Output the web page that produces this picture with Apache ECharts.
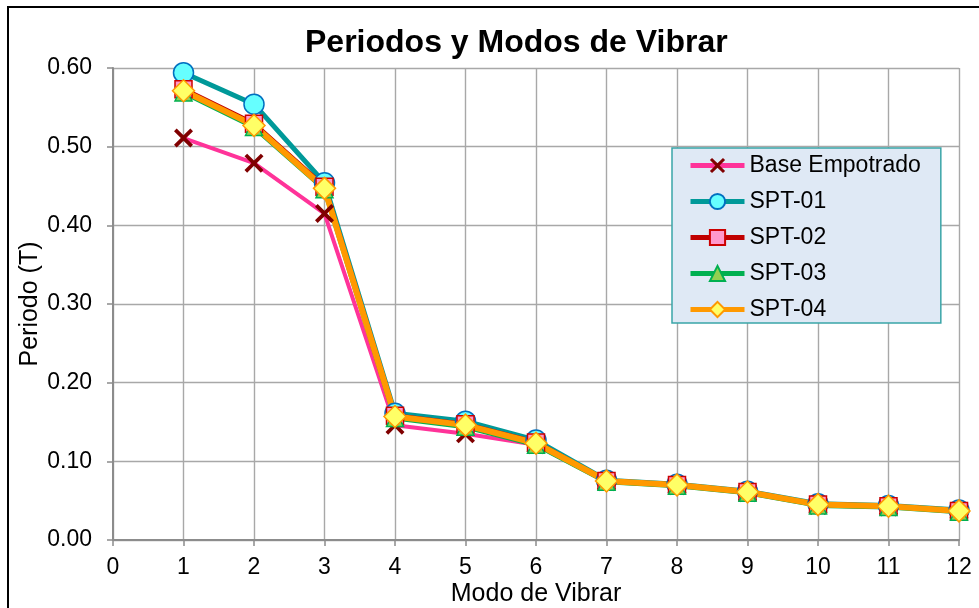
<!DOCTYPE html>
<html>
<head>
<meta charset="utf-8">
<title>Periodos y Modos de Vibrar</title>
<script src="https://cdn.jsdelivr.net/npm/echarts@6/dist/echarts.min.js"></script>
<style>
  html, body { margin: 0; padding: 0; background: #fff; }
  #chart { width: 979px; height: 608px; }
</style>
</head>
<body>
<div id="chart"></div>
<script>
// Modal periods (s) for each vibration mode and support condition
const modes = [1, 2, 3, 4, 5, 6, 7, 8, 9, 10, 11, 12];
const baseEmpotrado = [0.511, 0.479, 0.415, 0.146, 0.135, 0.121, 0.074, 0.069, 0.060, 0.044, 0.042, 0.037];
const spt01 = [0.594, 0.554, 0.454, 0.161, 0.151, 0.127, 0.076, 0.071, 0.062, 0.046, 0.044, 0.038];
const spt02 = [0.573, 0.529, 0.449, 0.158, 0.147, 0.124, 0.075, 0.070, 0.061, 0.045, 0.043, 0.037];
const spt03 = [0.569, 0.525, 0.446, 0.155, 0.144, 0.121, 0.074, 0.069, 0.060, 0.044, 0.042, 0.036];
const spt04 = [0.571, 0.527, 0.447, 0.157, 0.146, 0.123, 0.075, 0.070, 0.061, 0.045, 0.043, 0.037];
const seriesNames = ['Base Empotrado', 'SPT-01', 'SPT-02', 'SPT-03', 'SPT-04'];

const FONT = '"Liberation Sans", Arial, sans-serif';
const CROSS = 'path://M1.4,0 L5,3.6 L8.6,0 L10,1.4 L6.4,5 L10,8.6 L8.6,10 L5,6.4 L1.4,10 L0,8.6 L3.6,5 L0,1.4 Z';

function pairs(values) {
  return modes.map((m, i) => [m, values[i]]);
}

function lineSeries(name, values, lineColor, lineWidth, symbol, size, fill, border, borderWidth) {
  return {
    name: name,
    type: 'line',
    data: pairs(values),
    symbol: symbol,
    symbolSize: size,
    showAllSymbol: true,
    lineStyle: { color: lineColor, width: lineWidth },
    itemStyle: { color: fill, borderColor: border, borderWidth: borderWidth },
    emphasis: { disabled: true },
    animation: false
  };
}

const chart = echarts.init(document.getElementById('chart'), null, { renderer: 'canvas' });

chart.setOption({
  backgroundColor: '#ffffff',
  animation: false,
  title: {
    text: 'Periodos y Modos de Vibrar',
    left: 305,
    top: 27,
    padding: 0,
    textStyle: { fontFamily: FONT, fontSize: 32, fontWeight: 'bold', color: '#000' }
  },
  grid: {
    left: 113, right: 20, top: 68, bottom: 68,
    containLabel: false,
    outerBoundsMode: 'none'
  },
  legend: {
    data: seriesNames,
    orient: 'vertical',
    left: 672,
    top: 148,
    itemWidth: 54,
    itemHeight: 19,
    itemGap: 11,
    padding: [5, 20, 1, 16],
    backgroundColor: '#dfe9f5',
    borderColor: '#3aa5a8',
    borderWidth: 1.5,
    lineStyle: { width: 5 },
    textStyle: { fontFamily: FONT, fontSize: 23, color: '#000', lineHeight: 25 },
    selectedMode: false
  },
  xAxis: {
    type: 'value',
    min: 0,
    max: 12,
    interval: 1,
    name: 'Modo de Vibrar',
    nameLocation: 'middle',
    nameGap: 42,
    nameMoveOverlap: false,
    nameTextStyle: { fontFamily: FONT, fontSize: 25, color: '#000' },
    axisLine: { show: true, onZero: false, lineStyle: { color: '#8c8c8c', width: 2 } },
    axisTick: { show: true, inside: false, length: 6, lineStyle: { color: '#8c8c8c', width: 1.5 } },
    axisLabel: { fontFamily: FONT, fontSize: 23, color: '#000', margin: 16 },
    splitLine: { show: true, lineStyle: { color: '#a8a8a8', width: 1.4 } }
  },
  yAxis: {
    type: 'value',
    min: 0,
    max: 0.6,
    interval: 0.1,
    name: 'Periodo (T)',
    nameLocation: 'middle',
    nameGap: 70,
    nameMoveOverlap: false,
    nameTextStyle: { fontFamily: FONT, fontSize: 25, color: '#000' },
    axisLine: { show: true, lineStyle: { color: '#8c8c8c', width: 2 } },
    axisTick: { show: true, inside: false, length: 6, lineStyle: { color: '#8c8c8c', width: 1.5 } },
    axisLabel: { fontFamily: FONT, fontSize: 23, color: '#000', margin: 21, formatter: v => v.toFixed(2) },
    splitLine: { show: true, lineStyle: { color: '#a8a8a8', width: 1.4 } }
  },
  graphic: [
    {
      type: 'rect',
      shape: { x: 8, y: 7, width: 990, height: 620 },
      style: { fill: 'none', stroke: '#000', lineWidth: 2 },
      silent: true,
      z: 100
    }
  ],
  series: [
    lineSeries('Base Empotrado', baseEmpotrado, '#ff3399', 4, CROSS, 19, '#800000', '#800000', 0),
    lineSeries('SPT-01', spt01, '#009999', 5, 'circle', 20, '#66ffff', '#0070c0', 1.5),
    lineSeries('SPT-02', spt02, '#c00000', 5, 'rect', 17, '#ff99cc', '#cc0000', 1.5),
    lineSeries('SPT-03', spt03, '#00b050', 5, 'triangle', 17, '#92d050', '#00b050', 1.5),
    lineSeries('SPT-04', spt04, '#ff9900', 6, 'diamond', 22, '#ffff66', '#ff9900', 1.5)
  ]
});
</script>
</body>
</html>
